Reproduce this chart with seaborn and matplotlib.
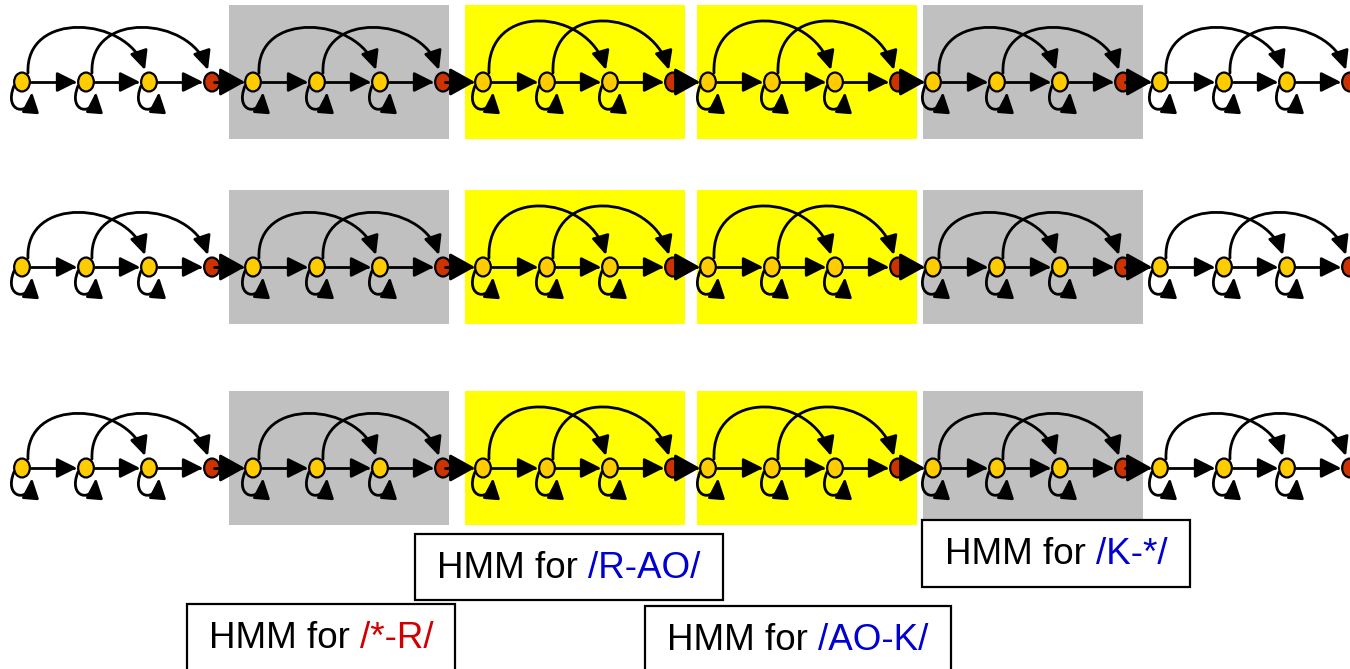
import numpy as np
import pandas as pd
import matplotlib
matplotlib.use("Agg")
import matplotlib.pyplot as plt
import seaborn as sns
from matplotlib.patches import Rectangle, FancyArrowPatch
from matplotlib.path import Path
from matplotlib.transforms import Affine2D

# diagram data
row_y = [82, 267, 468]                       # one chain of word HMMs per row
seg_x = [22, 253, 483, 708, 933, 1160]       # first state of each phone-pair HMM
state_dx = [0, 64, 127, 190]                 # 3 emitting states + 1 exit state
state_kind = ["emit", "emit", "emit", "exit"]
seg_fill = [None, "#C0C0C0", "#FFFF00", "#FFFF00", "#C0C0C0", None]
box_left = [None, 229, 465, 697, 923, None]
arc_k = [63, 63, 72, 72, 63, 63]

label_prefix = "HMM for"
label_phone = ["/*-R/", "/R-AO/", "/AO-K/", "/K-*/"]
label_color = ["#D00000", "#0000D0", "#0000D0", "#0000D0"]
label_box = [(187, 604, 268, 70), (415, 534, 308, 66), (645, 606, 306, 70), (922, 520, 268, 67)]

sns.set_style("white")
plt.rcParams["font.family"] = ["Liberation Sans", "DejaVu Sans"]

fig = plt.figure(figsize=(13.5, 6.69), dpi=100)
ax = fig.add_axes([0, 0, 1, 1])

# shaded boxes behind the HMMs
for y in row_y:
    for fill, bx in zip(seg_fill, box_left):
        if fill is None:
            continue
        ax.add_patch(Rectangle((bx, y - 77), 220, 134, facecolor=fill, edgecolor="none", zorder=0))

# states
nodes = []
for y in row_y:
    for x0 in seg_x:
        for dx, kind in zip(state_dx, state_kind):
            nodes.append((x0 + dx, y, kind))
df = pd.DataFrame(nodes, columns=["x", "y", "kind"])

ellipse = Path.unit_circle().transformed(Affine2D().scale(0.83, 1.0))
sns.scatterplot(data=df, x="x", y="y", hue="kind", palette={"emit": "#FFCC00", "exit": "#CC3300"},
                marker=ellipse, s=185, edgecolor="black", linewidth=1.6, legend=False, zorder=3, ax=ax)

def arrow(verts, style, z=2):
    codes = [Path.MOVETO] + [Path.CURVE4] * (len(verts) - 1) if len(verts) == 4 else [Path.MOVETO, Path.LINETO]
    p = FancyArrowPatch(path=Path(verts, codes), arrowstyle=style, mutation_scale=12,
                        lw=2, color="black", zorder=z)
    ax.add_patch(p)

straight = "-|>,head_length=1.0,head_width=0.5"
loop = "-|>,head_length=1.0,head_width=0.42"
arc = "-|>,head_length=0.95,head_width=0.45"
big = "-|>,head_length=1.3,head_width=0.72"

for y in row_y:
    for s, x0 in enumerate(seg_x):
        xs = [x0 + dx for dx in state_dx]
        for i in range(3):
            arrow([(xs[i] + 9, y), (xs[i + 1] - 9, y)], straight)
            # self loop under each emitting state
            arrow([(xs[i] - 8, y + 4), (xs[i] - 19, y + 31), (xs[i] + 8, y + 35), (xs[i] + 10, y + 10)], loop)
        k = arc_k[s]
        for i in range(2):
            a, b = xs[i], xs[i + 2]
            arrow([(a + 6, y - 9), (a + 3, y - 9 - k), (b - 22, y - 9 - 0.9 * k), (b - 4, y - 12)], arc)
        if s + 1 < len(seg_x):
            arrow([(xs[3] + 2, y), (seg_x[s + 1] - 8, y)], big, z=4)

# label boxes with two-colour text
renderer = fig.canvas.get_renderer()
for phone, col, (bx, by, bw, bh) in zip(label_phone, label_color, label_box):
    ax.add_patch(Rectangle((bx, by), bw, bh, facecolor="white", edgecolor="black", lw=1.6, zorder=5))
    cy = by + 35
    t1 = ax.text(bx, cy, label_prefix, fontsize=26.5, color="black", va="center", ha="left", zorder=6)
    t2 = ax.annotate(phone, xy=(1, 0), xycoords=t1, xytext=(10, 0), textcoords="offset pixels",
                     fontsize=26.5, color=col, va="bottom", ha="left", zorder=6)
    w = t1.get_window_extent(renderer).width + 10 + t2.get_window_extent(renderer).width
    t1.set_x(bx + (bw - w) / 2)

ax.set_xlim(0, 1350)
ax.set_ylim(669, 0)
ax.axis("off")

fig.savefig("out.png", dpi=100)
